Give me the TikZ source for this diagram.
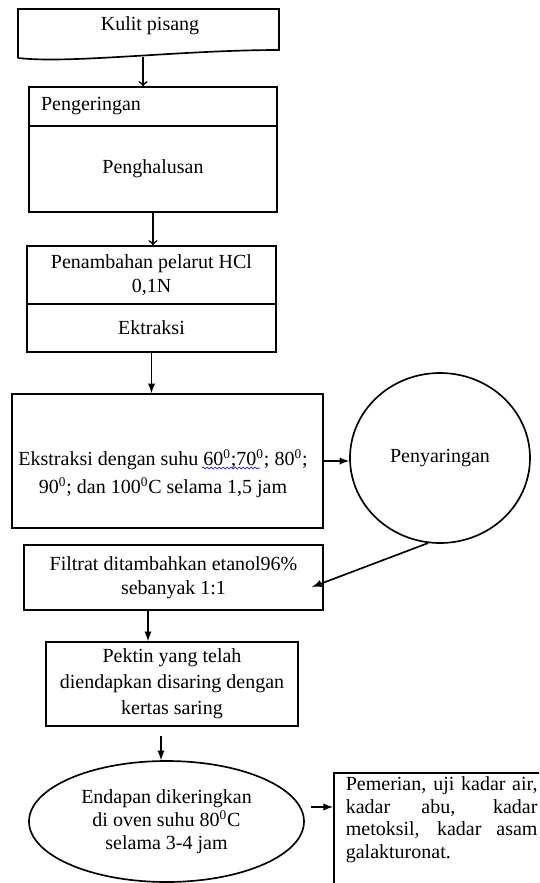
\documentclass[tikz,border=0pt]{standalone}
\usepackage{fontspec}
\setmainfont{Liberation Serif}
\usetikzlibrary{shapes.geometric,decorations.pathmorphing}
\begin{document}
\begin{tikzpicture}[x=0.6pt,y=-0.6pt,line width=1pt,
 kotak/.style={draw,rectangle,inner sep=0pt,align=center,font=\fontsize{12}{14.4}\selectfont},
 teks/.style={inner sep=0pt,align=center,font=\fontsize{12}{14.4}\selectfont},
 elips/.style={draw,ellipse,inner sep=0pt,align=center,font=\fontsize{12}{13.8}\selectfont},
 panah/.style={-latex}]
 \clip (0,0) rectangle (539,883);
 \draw (18,58) -- (18,9) -- (279,9) -- (279,50) .. controls (180,50) and (70,64) .. (18,58);
 \node[teks] (kulit) at (150,26) {Kulit pisang};
 \coordinate (kulitbawah) at (143,57);
 \node[kotak,align=left,text width=134.4pt,inner xsep=7.2pt,minimum height=23.4pt] (pengeringan) at (153,106.5) {Pengeringan};
 \node[kotak,minimum width=148.8pt,minimum height=51.6pt] (penghalusan) at (153,169) {Penghalusan};
 \node[kotak,minimum width=149.4pt,minimum height=34.8pt] (penambahan) at (151.5,275) {Penambahan pelarut HCl\\0,1N};
 \node[kotak,minimum width=149.4pt,minimum height=28.8pt] (ektraksi) at (151.5,328) {Ektraksi};
 \node[kotak,minimum width=186.6pt,minimum height=80.4pt] (ekstraksi) at (167.5,461) {};
 \node[teks,font=\fontsize{12}{16.8}\selectfont] (suhu) at (163,474)
  {Ekstraksi dengan suhu 60\textsuperscript{0};70\textsuperscript{0}; 80\textsuperscript{0};\\
   90\textsuperscript{0}; dan 100\textsuperscript{0}C selama 1,5 jam};
 \draw[blue,line width=0.4pt,decorate,decoration={snake,amplitude=0.6pt,segment length=2.4pt}] (202,468) -- (260,468);
 \node[elips,minimum width=108pt,minimum height=102pt] (penyaringan) at (440,458) {Penyaringan};
 \node[kotak,minimum width=179.4pt,minimum height=39pt] (filtrat) at (173.5,577.5) {Filtrat ditambahkan etanol96\%\\sebanyak 1:1};
 \coordinate (masukfiltrat) at (312,587);
 \node[kotak,minimum width=151.2pt,minimum height=50.4pt,font=\fontsize{12}{15.6}\selectfont] (pektin) at (172,684)
  {Pektin yang telah\\diendapkan disaring dengan\\kertas saring};
 \node[elips,minimum width=165pt,minimum height=72.6pt] (endapan) at (166.5,821.5)
  {Endapan dikeringkan\\di oven suhu 80\textsuperscript{0}C\\selama 3-4 jam};
 \node[kotak,anchor=north west,minimum width=130pt,minimum height=80pt] (hasil) at (333,772) {};
 \node[teks,anchor=north west,align=left,font=\fontsize{12}{13.5}\selectfont] (hasilteks) at (345,776)
  {\makebox[115pt][s]{Pemerian, uji kadar air,}\\\makebox[115pt][s]{kadar abu, kadar}\\
   \makebox[115pt][s]{metoksil, kadar asam}\\galakturonat.};
 \coordinate (keluar) at ([xshift=3.6pt,yshift=8.7pt]endapan.east);
 \draw[->] (kulitbawah) -- (kulitbawah |- pengeringan.north);
 \draw[->] (penghalusan.south) -- (penghalusan.south |- penambahan.north);
 \draw[panah] (ektraksi.south) -- (ektraksi.south |- ekstraksi.north);
 \draw[panah] (ekstraksi.east) -- (ekstraksi.east -| penyaringan.west);
 \draw[panah] (penyaringan.-98) -- (masukfiltrat);
 \draw[panah] ([xshift=-15.3pt]filtrat.south) -- ([xshift=-15.3pt]filtrat.south |- pektin.north);
 \draw[panah] ([xshift=-6.6pt,yshift=-5.4pt]pektin.south) -- ([xshift=-6.6pt]pektin.south |- endapan.north);
 \draw[panah] (keluar) -- (keluar -| hasil.west);
\end{tikzpicture}
\end{document}
